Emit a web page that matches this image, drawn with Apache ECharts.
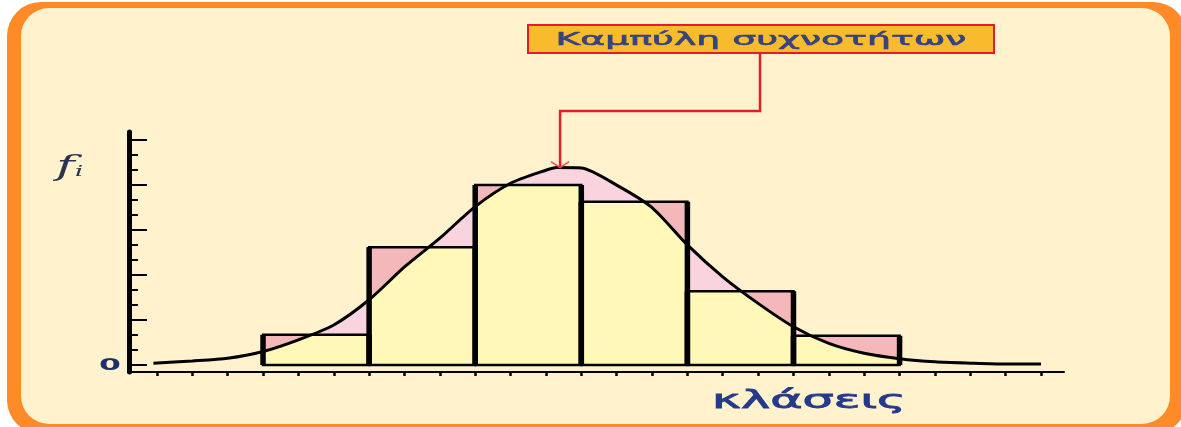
<!DOCTYPE html>
<html>
<head>
<meta charset="utf-8">
<title>Καμπύλη συχνοτήτων</title>
<script src="https://cdn.jsdelivr.net/npm/echarts@6/dist/echarts.min.js"></script>
<style>
    html, body { margin: 0; padding: 0; background: #ffffff; }
    #freqChart { width: 1181px; height: 427px; }
</style>
</head>
<body>
<div id="freqChart"></div>
<script>
// κλάσεις (σε μονάδες υποδιαίρεσης του άξονα x)
var classStart = [3, 6, 9, 12, 15, 18];
var classEnd = [6, 9, 12, 15, 18, 21];
var freq = [0.67, 2.62, 4.0, 3.63, 1.64, 0.65];

// σημεία της καμπύλης συχνοτήτων, όπως διαβάστηκαν από την εικόνα
var curveX = [-0.1, 1, 2, 3, 4, 5, 6, 7, 8, 9, 10, 11, 11.3, 12, 13, 14, 15, 16, 17, 18, 19, 20, 21, 22, 23, 24, 25];
var curveY = [0.04, 0.09, 0.15, 0.3, 0.56, 0.89, 1.45, 2.18, 2.82, 3.52, 4.04, 4.33, 4.39, 4.38, 4.0, 3.5, 2.67, 1.96, 1.37, 0.85, 0.48, 0.26, 0.14, 0.07, 0.04, 0.02, 0.02];

// υποδιαιρέσεις αξόνων
var xTicks = [0, 1, 2, 3, 4, 5, 6, 7, 8, 9, 10, 11, 12, 13, 14, 15, 16, 17, 18, 19, 20, 21, 22, 23, 24, 25];
var yMajorTicks = [0, 1, 2, 3, 4, 5];
var yMinorTicks = [1 / 3, 2 / 3, 4 / 3, 5 / 3, 7 / 3, 8 / 3, 10 / 3, 11 / 3, 13 / 3, 14 / 3];
var yTickLabels = ['0'];

var curveTitle = 'Καμπύλη συχνοτήτων';
var xName = 'κλάσεις';
var peakPoint = [11.4, 4.39];

var font = '"DejaVu Sans", "Noto Sans", sans-serif';

var chartDom = document.getElementById('freqChart');
var myChart = echarts.init(chartDom);

var barData = [];
for (var i = 0; i < freq.length; i++) {
    barData.push([classStart[i], classEnd[i], freq[i]]);
}
var curveData = [];
for (var j = 0; j < curveX.length; j++) {
    curveData.push([curveX[j], curveY[j]]);
}

//γραμμική ανάγνωση της καμπύλης ανάμεσα στα σημεία της
function curveAt(x) {
    if (x <= curveX[0]) return curveY[0];
    for (var k = 1; k < curveX.length; k++) {
        if (x <= curveX[k]) {
            var t = (x - curveX[k - 1]) / (curveX[k] - curveX[k - 1]);
            return curveY[k - 1] + t * (curveY[k] - curveY[k - 1]);
        }
    }
    return curveY[curveY.length - 1];
}

function renderFill(params, api) {
    var a = api.value(0), b = api.value(1), h = api.value(2);
    var xs = [a];
    curveX.forEach(function (x) {
        if (x > a && x < b) xs.push(x);
    });
    xs.push(b);
    var all = [];
    for (var k = 0; k < xs.length; k++) {
        all.push(xs[k]);
        if (k < xs.length - 1) {
            var c0 = curveAt(xs[k]) - h, c1 = curveAt(xs[k + 1]) - h;
            if (c0 * c1 < 0) all.push(xs[k] + (xs[k + 1] - xs[k]) * c0 / (c0 - c1));
        }
    }
    var pinkPts = [api.coord([a, 0])];
    xs.forEach(function (x) { pinkPts.push(api.coord([x, curveAt(x)])); });
    pinkPts.push(api.coord([b, 0]));

    var yellowPts = [api.coord([a, 0])];
    all.forEach(function (x) { yellowPts.push(api.coord([x, Math.min(curveAt(x), h)])); });
    yellowPts.push(api.coord([b, 0]));

    var p0 = api.coord([a, h]), p1 = api.coord([b, 0]);
    return {
        type: 'group',
        children: [
            { type: 'polygon', shape: { points: pinkPts }, style: { fill: '#f9d3dd' } },
            { type: 'rect', shape: { x: p0[0], y: p0[1], width: p1[0] - p0[0], height: p1[1] - p0[1] }, style: { fill: '#f5b8ba' } },
            { type: 'polygon', shape: { points: yellowPts }, style: { fill: '#fff8b9' } }
        ]
    };
}

function renderOutline(params, api) {
    var a = api.value(0), b = api.value(1), h = api.value(2);
    var p0 = api.coord([a, h]), p1 = api.coord([b, 0]);
    return {
        type: 'group',
        children: [
            { type: 'rect', shape: { x: p0[0], y: p0[1], width: p1[0] - p0[0], height: p1[1] - p0[1] }, style: { fill: 'none', stroke: '#000', lineWidth: 2.5 } },
            { type: 'line', shape: { x1: p0[0], y1: p0[1], x2: p0[0], y2: p1[1] }, style: { stroke: '#000', lineWidth: 5.5 } },
            { type: 'line', shape: { x1: p1[0], y1: p0[1], x2: p1[0], y2: p1[1] }, style: { stroke: '#000', lineWidth: 5.5 } }
        ]
    };
}

var option = {
    animation: false,
    backgroundColor: '#ffffff',
    grid: { left: 129, right: 117, top: 132, bottom: 55 },
    xAxis: {
        type: 'value',
        min: -0.79,
        max: 25.65,
        axisLine: { onZero: false, lineStyle: { color: '#000', width: 2 } },
        axisTick: { customValues: xTicks, length: 4, lineStyle: { color: '#000', width: 2.5 } },
        axisLabel: { show: false },
        splitLine: { show: false }
    },
    yAxis: [
        {
            type: 'value',
            min: -7 / 45,
            max: 5.18,
            axisLine: { show: true, onZero: false, lineStyle: { color: '#000', width: 5 } },
            axisTick: { show: true, inside: true, customValues: yMajorTicks, length: 18, lineStyle: { color: '#000', width: 2 } },
            axisLabel: { show: false },
            splitLine: { show: false }
        },
        {
            type: 'value',
            min: -7 / 45,
            max: 5.18,
            position: 'left',
            offset: 0,
            axisLine: { show: false, onZero: false },
            axisTick: { show: true, inside: true, customValues: yMinorTicks, length: 9, lineStyle: { color: '#000', width: 2 } },
            axisLabel: { show: false },
            splitLine: { show: false }
        }
    ],
    series: [
        {
            name: 'fill',
            type: 'custom',
            renderItem: renderFill,
            encode: { x: [0, 1], y: 2 },
            data: barData,
            z: 2
        },
        {
            name: 'outline',
            type: 'custom',
            renderItem: renderOutline,
            encode: { x: [0, 1], y: 2 },
            data: barData,
            z: 4
        },
        {
            name: curveTitle,
            type: 'line',
            data: curveData,
            symbol: 'none',
            smooth: 0.25,
            clip: false,
            lineStyle: { color: '#000', width: 3 },
            z: 5
        }
    ]
};
myChart.setOption(option);

//πλαίσιο, ετικέτες και βέλος
var tip = myChart.convertToPixel({ gridIndex: 0 }, peakPoint);
var zeroY = myChart.convertToPixel({ yAxisIndex: 0 }, 0);
var axisX = myChart.convertToPixel({ xAxisIndex: 0 }, -0.79);
var boxX = 528, boxY = 25, boxW = 466, boxH = 28;
var midX = boxX + boxW / 2;
var bendY = 111;

myChart.setOption({
    graphic: [
        { type: 'rect', z: -10, shape: { x: 7, y: 2, width: 1180, height: 432, r: 34 }, style: { fill: '#ff8a28' } },
        { type: 'rect', z: -9, shape: { x: 21, y: 8, width: 1149, height: 416, r: 28 }, style: { fill: '#fff2cc' } },
        { type: 'rect', z: 10, shape: { x: boxX, y: boxY, width: boxW, height: boxH }, style: { fill: '#f8bb2e', stroke: '#e31b2a', lineWidth: 2 } },
        {
            type: 'text', z: 11, x: midX, y: boxY + boxH / 2 + 1, scaleX: 2.1,
            style: { text: curveTitle, font: '18px ' + font, fill: '#35437f', stroke: '#35437f', lineWidth: 0.6, align: 'center', verticalAlign: 'middle' }
        },
        {
            type: 'polyline', z: 10,
            shape: { points: [[midX - 1, boxY + boxH + 1], [midX - 1, bendY], [tip[0], bendY], [tip[0], tip[1] - 1]] },
            style: { stroke: '#e41e2b', lineWidth: 2.5, fill: 'none' }
        },
        {
            type: 'polyline', z: 10,
            shape: { points: [[tip[0] - 9, tip[1] - 6], [tip[0], tip[1]], [tip[0] + 9, tip[1] - 6]] },
            style: { stroke: '#ee4a55', lineWidth: 1.5, fill: 'none' }
        },
        {
            type: 'text', z: 11, x: 809, y: 402, scaleX: 2.05,
            style: { text: xName, font: '24px ' + font, fill: '#253a8a', stroke: '#253a8a', lineWidth: 0.8, align: 'center', verticalAlign: 'middle' }
        },
        {
            type: 'text', z: 11, x: axisX - 19, y: zeroY + 1, scaleX: 2.1,
            style: { text: yTickLabels[0], font: 'bold 15px ' + font, fill: '#1f2f6c', align: 'center', verticalAlign: 'middle' }
        },
        {
            type: 'text', z: 11, x: 56, y: 168, scaleX: 1.8,
            style: {
                text: '{f|f}{i|i}',
                verticalAlign: 'middle',
                rich: {
                    f: { font: 'italic 28px "DejaVu Serif", serif', fill: '#2b3352' },
                    i: { font: 'italic 15px "DejaVu Serif", serif', fill: '#2b3352', padding: [8, 0, 0, 0] }
                }
            }
        }
    ]
});
</script>
</body>
</html>
